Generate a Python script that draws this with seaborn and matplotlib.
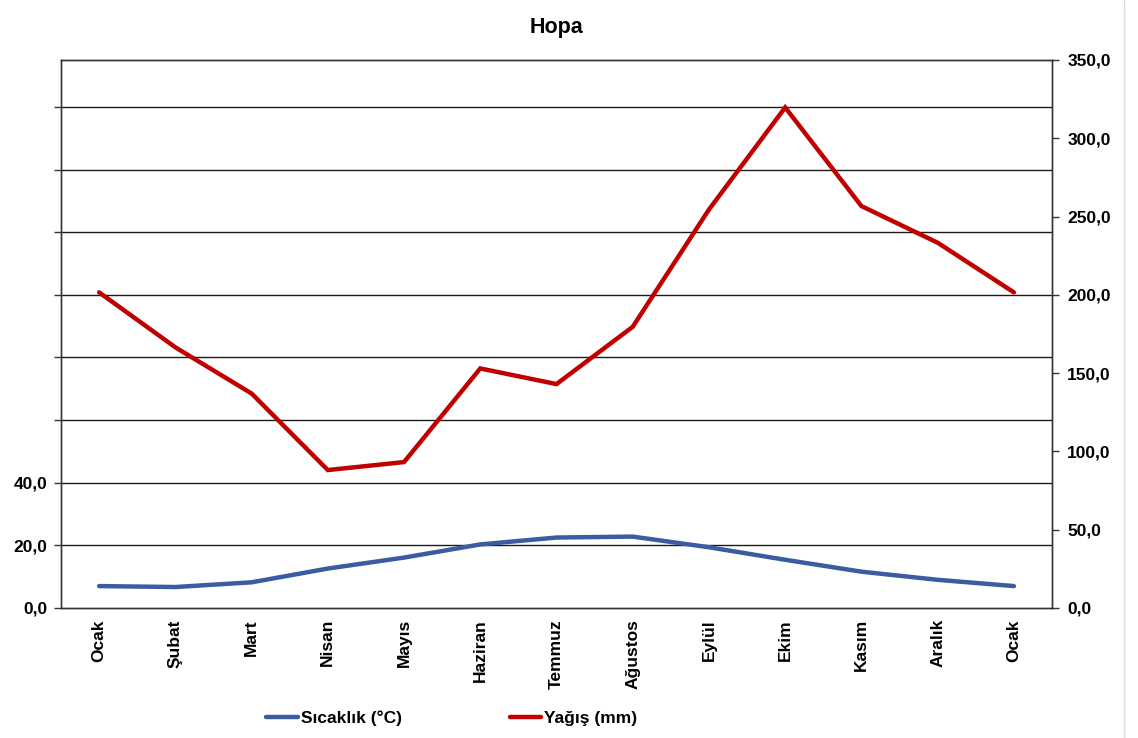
import matplotlib
matplotlib.use("Agg")
import matplotlib.pyplot as plt
from matplotlib.ticker import FuncFormatter, FixedLocator
from matplotlib.lines import Line2D
import seaborn as sns
import pandas as pd

# Monthly climate values for Hopa
months = ["Ocak", "Şubat", "Mart", "Nisan", "Mayıs", "Haziran", "Temmuz",
          "Ağustos", "Eylül", "Ekim", "Kasım", "Aralık", "Ocak"]
temperature = [7.0, 6.7, 8.2, 12.6, 16.1, 20.3, 22.5, 22.8, 19.4, 15.4, 11.6, 9.0, 7.0]
precipitation = [201.6, 166.5, 137.0, 88.1, 93.2, 153.0, 143.0, 179.6, 254.5, 319.7, 256.7, 233.3, 201.6]

left_ticks = [0, 20, 40, 60, 80, 100, 120, 140, 160]
left_labels = ["0,0", "20,0", "40,0", "", "", "", "", "", ""]
right_ticks = [0, 50, 100, 150, 200, 250, 300, 350]

sns.set_theme(style="white")
plt.rcParams["font.family"] = ["Liberation Sans", "DejaVu Sans"]
plt.rcParams["text.color"] = "black"
plt.rcParams["xtick.color"] = "black"
plt.rcParams["ytick.color"] = "black"

blue = "#3B5CA0"
red = "#C00000"
tick_size = 12.5

df = pd.DataFrame({"idx": range(len(months)), "month": months,
                   "temp": temperature, "rain": precipitation})

fig = plt.figure(figsize=(11.38, 7.38), dpi=100)
ax = fig.add_axes([61 / 1138, 130 / 738, (1052 - 61) / 1138, (608 - 60) / 738])
ax2 = ax.twinx()

sns.lineplot(data=df, x="idx", y="temp", ax=ax, color=blue, linewidth=3.2,
             solid_capstyle="round", solid_joinstyle="round")
sns.lineplot(data=df, x="idx", y="rain", ax=ax2, color=red, linewidth=3.2,
             solid_capstyle="round", solid_joinstyle="miter")

ax.set_xlim(-0.5, len(months) - 0.5)
ax.set_ylim(0, 175)
ax2.set_ylim(0, 350)

# horizontal grid on the left scale
ax.set_yticks(left_ticks)
ax.set_yticklabels(left_labels)
for v in left_ticks[1:]:
    ax.axhline(v, color="#1a1a1a", linewidth=1.0, zorder=0)

ax2.set_yticks(right_ticks)
ax2.yaxis.set_major_formatter(FuncFormatter(lambda v, p: f"{v:.1f}".replace(".", ",")))

# category labels at centers, tick marks at boundaries
ax.set_xticks(range(len(months)))
ax.set_xticklabels(months, rotation=90, fontweight="bold", fontsize=tick_size)
ax.xaxis.set_minor_locator(FixedLocator([i - 0.5 for i in range(len(months) + 1)]))
ax.tick_params(axis="x", which="major", length=0, pad=8)
ax.tick_params(axis="x", which="minor", length=6, width=1, color="#333333", direction="out")
ax.tick_params(axis="y", length=5, width=1, color="#333333", direction="out",
               labelsize=tick_size, pad=5)
ax2.tick_params(axis="y", length=5, width=1, color="#333333", direction="out",
                labelsize=tick_size, pad=6)
for t in ax.get_yticklabels() + ax2.get_yticklabels():
    t.set_fontweight("bold")

ax.set_xlabel("")
ax.set_ylabel("")
ax2.set_ylabel("")
for a in (ax, ax2):
    for s in a.spines.values():
        s.set_color("#333333")
        s.set_linewidth(1.0)
ax.spines["left"].set_color("#555555")
ax2.grid(False)
ax.grid(False)

# light chart-area edge on the right
fig.add_artist(Line2D([1124 / 1138, 1124 / 1138], [0, 1], transform=fig.transFigure,
                      color="#dcdcdc", linewidth=1.0))

fig.suptitle("Hopa", x=(61 + 1052) / 2 / 1138, y=1 - 27 / 738, va="center",
             fontsize=15.5, fontweight="bold", color="black")

handles = [Line2D([], [], color=blue, linewidth=3.2, solid_capstyle="round"),
           Line2D([], [], color=red, linewidth=3.2, solid_capstyle="round")]
fig.legend(handles, ["Sıcaklık (°C)", "Yağış (mm)"], loc="center",
           bbox_to_anchor=(452 / 1138, 1 - 718 / 738), ncol=2, frameon=False,
           handlelength=1.8, handletextpad=0.2, columnspacing=6.2,
           prop={"weight": "bold", "size": 12.5}, labelcolor="black")

fig.savefig("out.png", dpi=100, facecolor="white")
